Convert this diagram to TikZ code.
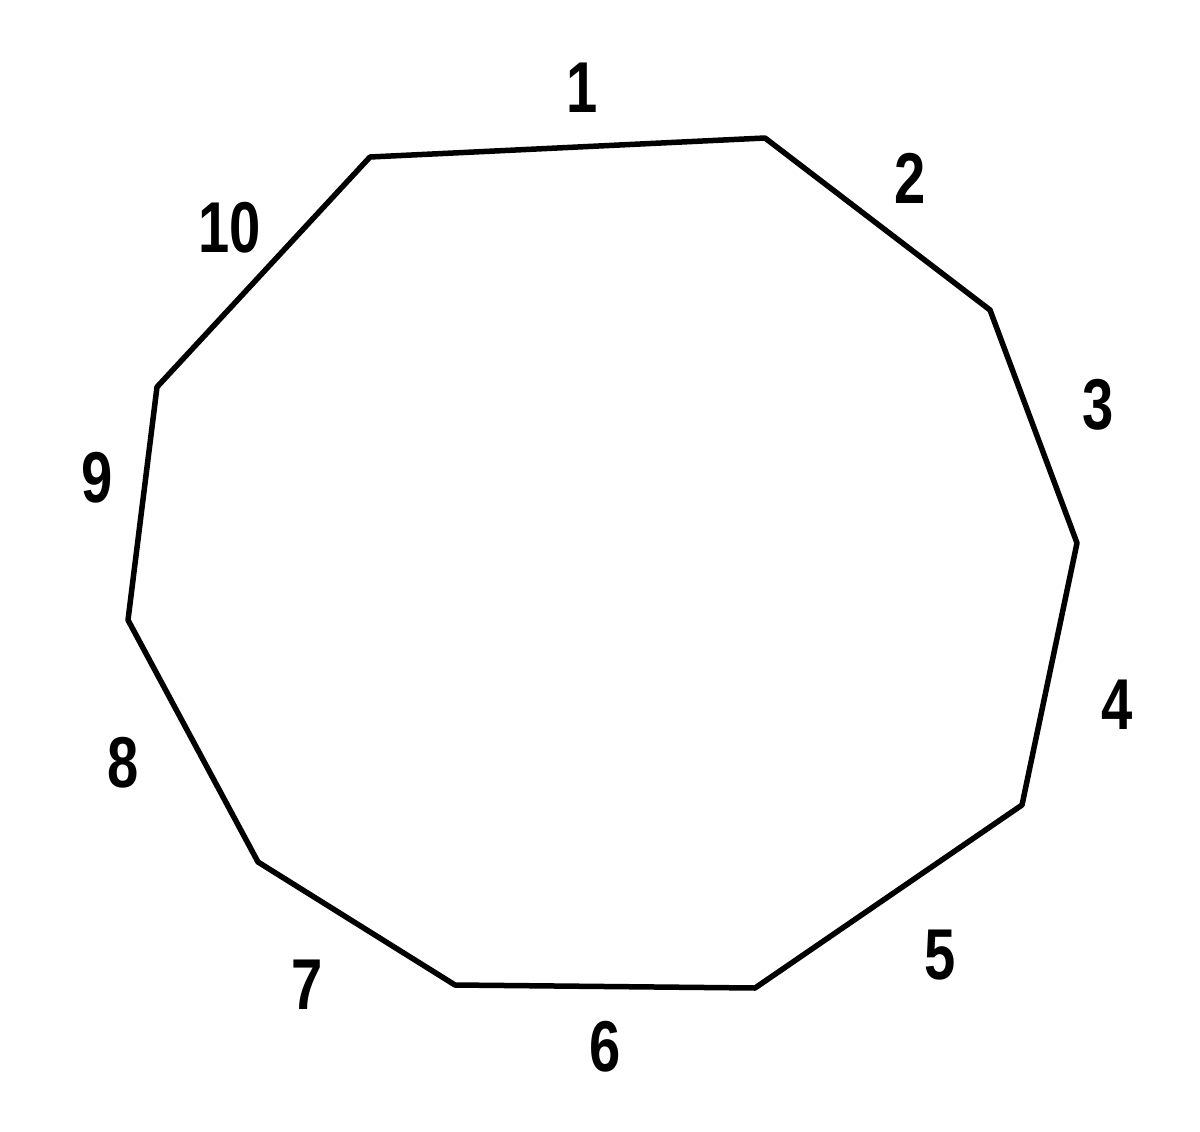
\documentclass[tikz,border=0pt]{standalone}
\usepackage{fontspec}
\setmainfont{Liberation Sans}
\begin{document}
\begin{tikzpicture}[x=1pt,y=-1pt,
  edge/.style={line width=5.5pt,line join=round,line cap=round},
  lab/.style={font=\bfseries\fontsize{72}{76}\selectfont,xscale=0.78,inner sep=0pt}]
\useasboundingbox (0,0) rectangle (1200,1132);
\coordinate (v1) at (370,157);
\coordinate (v2) at (765,138);
\coordinate (v3) at (990,310);
\coordinate (v4) at (1077,543);
\coordinate (v5) at (1022,805);
\coordinate (v6) at (755,988);
\coordinate (v7) at (455,985);
\coordinate (v8) at (258,862);
\coordinate (v9) at (128,620);
\coordinate (v10) at (157,387);
\draw[edge] (v1) -- (v2) -- (v3) -- (v4) -- (v5) -- (v6) -- (v7) -- (v8) -- (v9) -- (v10) -- cycle;
\node[lab] (l1) at (582,88) {1};
\node[lab] (l2) at (910,178) {2};
\node[lab] (l3) at (1098,405) {3};
\node[lab] (l4) at (1117,705) {4};
\node[lab] (l5) at (940,955) {5};
\node[lab] (l6) at (605,1047) {6};
\node[lab] (l7) at (307,985) {7};
\node[lab] (l8) at (123,763) {8};
\node[lab] (l9) at (97,478) {9};
\node[lab] (l10) at (230,228) {10};
\end{tikzpicture}
\end{document}
